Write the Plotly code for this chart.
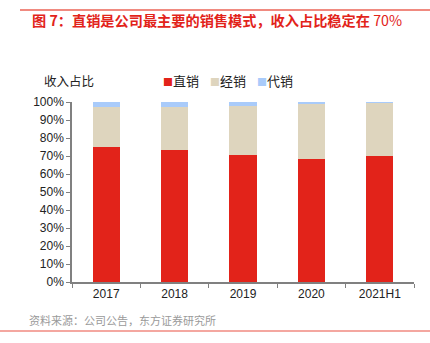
import plotly.graph_objects as go

categories = ["2017", "2018", "2019", "2020", "2021H1"]
direct = [75.0, 73.3, 70.8, 68.3, 70.0]
distrib = [22.0, 23.7, 27.2, 31.1, 29.7]
consign = [3.0, 3.0, 2.0, 0.6, 0.3]
series_names = ["直销", "经销", "代销"]
colors = ["#E2231A", "#DED5BE", "#A9CBFA"]
yticks = [0, 10, 20, 30, 40, 50, 60, 70, 80, 90, 100]
ytick_text = [f"{v}%" for v in yticks]

W, H = 430, 343
L, R, T, B = 72, 16, 102, 61

FONT = "Noto Sans CJK SC, Liberation Sans, sans-serif"

fig = go.Figure()
for name, vals, c in zip(series_names, [direct, distrib, consign], colors):
    fig.add_trace(go.Bar(
        x=categories, y=vals, name=name, marker=dict(color=c, line=dict(width=0)),
        width=0.4, showlegend=False,
    ))

def px_x(x):
    return (x - L) / (W - L - R)

def px_y(y):
    return (H - B - y) / (H - T - B)

fig.update_layout(
    width=W, height=H,
    margin=dict(l=L, r=R, t=T, b=B),
    barmode="stack",
    plot_bgcolor="white", paper_bgcolor="white",
    font=dict(family=FONT, size=12, color="#222"),
    showlegend=False,
    xaxis=dict(
        type="category", showline=True, linecolor="#808080", linewidth=1.5,
        ticks="outside", tickson="boundaries", ticklen=4, tickcolor="#808080",
        tickfont=dict(size=12, color="#222", family="Liberation Sans, Arial, sans-serif"),
        showgrid=False, range=[-0.5, 4.5],
    ),
    yaxis=dict(
        range=[0, 100], tickvals=yticks, ticktext=ytick_text,
        showline=True, linecolor="#808080", linewidth=1.5,
        ticks="outside", ticklen=4, tickcolor="#808080",
        tickfont=dict(size=12, color="#222", family="Liberation Sans, Arial, sans-serif"),
        showgrid=False, zeroline=False,
    ),
)

annotations = [
    dict(text="<b>图 7：直销是公司最主要的销售模式，收入占比稳定在 </b>70%", x=px_x(217), y=px_y(20),
         xref="paper", yref="paper", xanchor="center", yanchor="middle", showarrow=False,
         font=dict(size=14.2, color="#E2231A", family=FONT)),
    dict(text="收入占比", x=px_x(42), y=px_y(80), xref="paper", yref="paper",
         xanchor="left", yanchor="middle", showarrow=False,
         font=dict(size=12.5, color="#222", family=FONT)),
    dict(text="资料来源：公司公告，东方证券研究所", x=px_x(27), y=px_y(320), xref="paper", yref="paper",
         xanchor="left", yanchor="middle", showarrow=False,
         font=dict(size=11, color="#9a9a9a", family=FONT)),
]
legend_x = [161, 208, 255]
for name, c, lx in zip(series_names, colors, legend_x):
    annotations.append(dict(
        text=f"<span style='color:{c};font-size:10px'>■</span>{name}",
        x=px_x(lx), y=px_y(80), xref="paper", yref="paper",
        xanchor="left", yanchor="middle", showarrow=False,
        font=dict(size=13, color="#222", family=FONT)))
fig.update_layout(annotations=annotations)

shapes = [
    dict(type="line", xref="paper", yref="paper", x0=px_x(20), x1=px_x(430), y0=px_y(10), y1=px_y(10),
         line=dict(color="#F08A80", width=2)),
    dict(type="line", xref="paper", yref="paper", x0=px_x(0), x1=px_x(430), y0=px_y(331), y1=px_y(331),
         line=dict(color="#F08A80", width=1.5)),
]
fig.update_layout(shapes=shapes)

fig.write_html("out.html")
